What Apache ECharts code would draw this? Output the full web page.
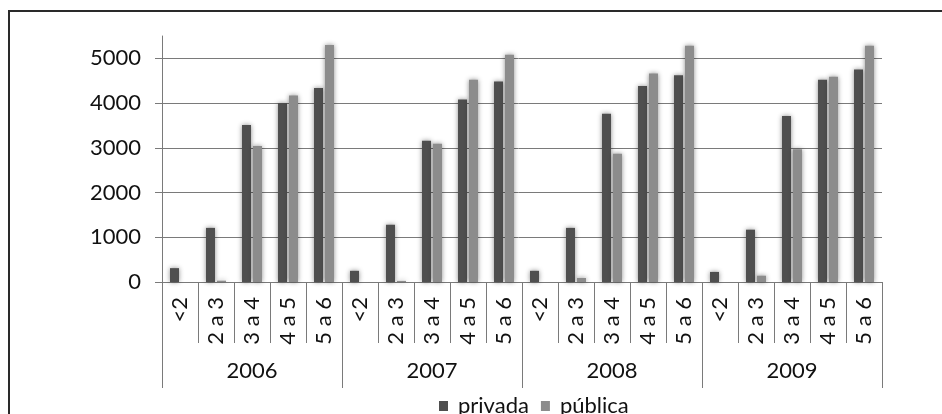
<!DOCTYPE html>
<html>
<head>
<meta charset="utf-8">
<script src="https://cdn.jsdelivr.net/npm/echarts@6/dist/echarts.min.js"></script>
<style>
  html, body { margin: 0; padding: 0; background: #fff; }
  #wrap { position: relative; width: 942px; height: 414px; }
  #chart { position: absolute; left: 0; top: 0; width: 942px; height: 414px; }
  #frame { position: absolute; left: 8px; top: 10px; right: 0; bottom: 0;
           border-left: 2px solid #2a2a2a; border-top: 2px solid #2a2a2a; pointer-events: none; }
</style>
</head>
<body>
<div id="wrap">
  <div id="chart"></div>
  <div id="frame"></div>
</div>
<script>
// Age bands repeated for each year, and the year groups beneath them
const ageBands = ['<2', '2 a 3', '3 a 4', '4 a 5', '5 a 6'];
const years = ['2006', '2007', '2008', '2009'];

// Enrolment by age band, one block of five per year (2006..2009)
const privada = [
  310, 1210, 3510, 4000, 4340,
  250, 1280, 3160, 4080, 4480,
  250, 1210, 3760, 4380, 4620,
  225, 1170, 3710, 4520, 4750
];
const publica = [
  0, 30, 3040, 4170, 5300,
  0, 25, 3090, 4520, 5080,
  0, 90, 2870, 4660, 5280,
  0, 140, 2970, 4590, 5280
];

const yTicks = { min: 0, max: 5500, interval: 1000 };

const categories = [];
years.forEach(function () { ageBands.forEach(function (b) { categories.push(b); }); });

const FONT = 'Lato';
const FONT_SIZE = 22;
const axisGray = '#7a7a7a';

const chart = echarts.init(document.getElementById('chart'), null, { renderer: 'canvas' });

const barStyle = function (color) {
  return {
    color: color,
    shadowBlur: 5,
    shadowColor: 'rgba(0,0,0,0.45)',
    shadowOffsetX: 0,
    shadowOffsetY: 0
  };
};

chart.setOption({
  animation: false,
  textStyle: { fontFamily: FONT },
  grid: [
    { left: 155, right: 60, top: 36, bottom: 132 },
    { left: 162, right: 60, top: 36, bottom: 132 }
  ],
  legend: {
    data: ['privada', 'pública'],
    left: 434,
    top: 390,
    icon: 'rect',
    itemWidth: 9,
    itemHeight: 10,
    itemGap: 12,
    textStyle: { fontFamily: FONT, fontSize: FONT_SIZE, color: '#111', padding: [0, 0, 0, 5] }
  },
  xAxis: [
    { gridIndex: 0, type: 'category', data: categories, show: false },
    {
      gridIndex: 1,
      type: 'category',
      data: categories,
      position: 'bottom',
      axisLine: { show: true, lineStyle: { color: axisGray, width: 1 } },
      axisTick: { show: true, interval: 0, length: 61, lineStyle: { color: axisGray } },
      axisLabel: { interval: 0, rotate: 90, margin: 15, fontFamily: FONT, fontSize: FONT_SIZE, color: '#111' }
    },
    {
      gridIndex: 1,
      type: 'category',
      data: years,
      position: 'bottom',
      axisLine: { show: false },
      axisTick: { show: true, interval: 0, length: 106, lineStyle: { color: axisGray } },
      axisLabel: { interval: 0, margin: 78, fontFamily: FONT, fontSize: FONT_SIZE, color: '#111' }
    }
  ],
  yAxis: [
    {
      gridIndex: 0,
      type: 'value',
      min: yTicks.min, max: yTicks.max, interval: yTicks.interval,
      axisLine: { show: false },
      axisTick: { show: false },
      axisLabel: { show: false },
      splitLine: { show: true, showMaxLine: false, lineStyle: { color: axisGray, width: 1 } }
    },
    {
      gridIndex: 1,
      type: 'value',
      min: yTicks.min, max: yTicks.max, interval: yTicks.interval,
      axisLine: { show: true, lineStyle: { color: axisGray, width: 1 } },
      axisTick: { show: false },
      splitLine: { show: false },
      axisLabel: {
        margin: 21, showMaxLabel: false, fontFamily: FONT, fontSize: FONT_SIZE, color: '#111',
        formatter: function (v) { return String(v); }
      }
    }
  ],
  series: [
    {
      name: 'privada',
      type: 'bar',
      xAxisIndex: 1,
      yAxisIndex: 1,
      data: privada,
      barWidth: 9,
      barGap: '22%',
      itemStyle: barStyle('#4f4f4f')
    },
    {
      name: 'pública',
      type: 'bar',
      xAxisIndex: 1,
      yAxisIndex: 1,
      data: publica,
      barWidth: 9,
      barGap: '22%',
      itemStyle: barStyle('#8c8c8c')
    }
  ]
});
</script>
</body>
</html>
